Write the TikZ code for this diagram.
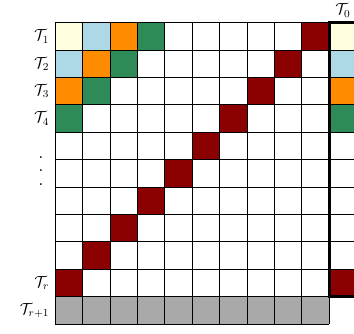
\documentclass[tikz,border=0pt]{standalone}
\definecolor{cyellow}{HTML}{FFFFE0}
\definecolor{cblue}{HTML}{ADD8E6}
\definecolor{corange}{HTML}{FF8C00}
\definecolor{cgreen}{HTML}{2E8B57}
\definecolor{cred}{HTML}{8B0000}
\definecolor{cgray}{HTML}{A9A9A9}
\newcommand{\myvdots}{\vbox{\Large\baselineskip=10pt\lineskiplimit=0pt\hbox{.}\hbox{.}\hbox{.}}}
\begin{document}
\begin{tikzpicture}[x=0.75pt,y=-0.75pt,
  gridline/.style={draw=black,line width=0.8pt},
  thickline/.style={draw=black,line width=2pt},
  lbl/.style={inner sep=0pt,font=\large}]
\useasboundingbox (0,0) rectangle (354,333);
\clip (0,0) rectangle (354,333);
\def\gx{55.3}\def\gy{22.7}\def\cs{27.4}
% coloured cells of the main grid
\foreach \i/\j/\c in {1/1/cyellow,2/1/cblue,1/2/cblue,3/1/corange,2/2/corange,1/3/corange,4/1/cgreen,3/2/cgreen,2/3/cgreen,1/4/cgreen}
  \fill[\c] ({\gx+(\i-1)*\cs},{\gy+(\j-1)*\cs}) rectangle ++(\cs,\cs);
\foreach \j in {1,...,10}
  \fill[cred] ({\gx+(10-\j)*\cs},{\gy+(\j-1)*\cs}) rectangle ++(\cs,\cs);
\fill[cgray] (\gx,{\gy+10*\cs}) rectangle ++({10*\cs},\cs);
% T0 column
\foreach \j/\c in {1/cyellow,2/cblue,3/corange,4/cgreen,10/cred}
  \fill[\c] ({\gx+10*\cs},{\gy+(\j-1)*\cs}) rectangle ++(\cs,\cs);
% grid lines
\foreach \k in {0,...,10}
  \draw[gridline] ({\gx+\k*\cs},\gy) -- ({\gx+\k*\cs},{\gy+11*\cs});
\foreach \k in {0,...,11}
  \draw[gridline] (\gx,{\gy+\k*\cs}) -- ({\gx+10*\cs},{\gy+\k*\cs});
\foreach \k in {1,...,9}
  \draw[gridline] ({\gx+10*\cs},{\gy+\k*\cs}) -- ({\gx+11*\cs},{\gy+\k*\cs});
\draw[thickline] ({\gx+10*\cs},\gy) rectangle ({\gx+11*\cs},{\gy+10*\cs});
% labels
\node[lbl,anchor=east] (t1) at (49.5,{\gy+0.5*\cs}) {$\mathcal{T}_1$};
\node[lbl,anchor=east] (t2) at (49.5,{\gy+1.5*\cs}) {$\mathcal{T}_2$};
\node[lbl,anchor=east] (t3) at (49.5,{\gy+2.5*\cs}) {$\mathcal{T}_3$};
\node[lbl,anchor=east] (t4) at (49.5,{\gy+3.5*\cs}) {$\mathcal{T}_4$};
\node[lbl] (dots) at (41,171) {\myvdots};
\node[lbl,anchor=east] (tr) at (49.5,{\gy+9.5*\cs}) {$\mathcal{T}_r$};
\node[lbl,anchor=east] (tr1) at (49.5,{\gy+10.5*\cs}) {$\mathcal{T}_{r+1}$};
\node[lbl,anchor=south] (t0) at ({\gx+10.5*\cs},17.5) {$\mathcal{T}_0$};
\end{tikzpicture}
\end{document}
